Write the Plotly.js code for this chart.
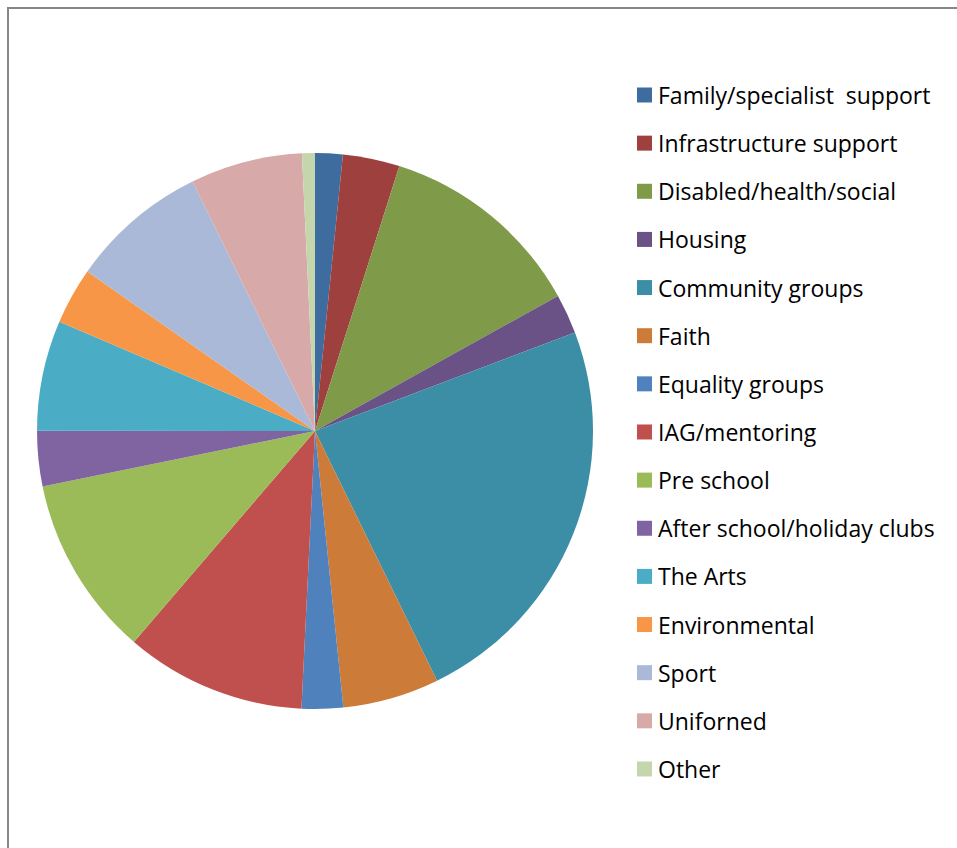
<!DOCTYPE html>
<html>
<head>
<meta charset="utf-8">
<script src="https://cdn.plot.ly/plotly-3.0.1.min.js"></script>
<style>
html,body{margin:0;padding:0;background:#fff;}
#chart{width:957px;height:848px;}
</style>
</head>
<body>
<div id="chart"></div>
<script>
var categories = [
  "Family/specialist  support",
  "Infrastructure support",
  "Disabled/health/social",
  "Housing",
  "Community groups",
  "Faith",
  "Equality groups",
  "IAG/mentoring",
  "Pre school",
  "After school/holiday clubs",
  "The Arts",
  "Environmental",
  "Sport",
  "Uniforned",
  "Other"
];
var shares = [1.6, 3.3, 12.0, 2.3, 23.5, 5.6, 2.4, 10.5, 10.5, 3.2, 6.4, 3.3, 8.0, 6.5, 0.75];
var colors = [
  "#3E6C9F", "#9E413E", "#7F9A48", "#6A5186", "#3B8EA5",
  "#CC7B38", "#4F81BD", "#C0504D", "#9BBB59", "#8064A2",
  "#4BACC6", "#F79646", "#A9B9D7", "#D8A9A9", "#C6D6AC"
];

var W = 957, H = 848;
var cx = 315, cy = 431, R = 278;

var trace = {
  type: "pie",
  labels: categories,
  values: shares,
  sort: false,
  direction: "clockwise",
  rotation: 0,
  textinfo: "none",
  marker: { colors: colors, line: { width: 0 } },
  domain: {
    x: [(cx - R) / W, (cx + R) / W],
    y: [(H - cy - R) / H, (H - cy + R) / H]
  },
  showlegend: false,
  hoverinfo: "label+percent"
};

// Legend built from the category list
var legTop = 95, legStep = 48.14, sq = 15, legX = 637, textX = 656;
var shapes = [{
  type: "rect", xref: "paper", yref: "paper",
  x0: 8 / W, x1: 1.1, y0: -0.1, y1: (H - 8) / H,
  line: { color: "#878787", width: 2 }, fillcolor: "rgba(0,0,0,0)"
}];
var annotations = [];
categories.forEach(function (c, i) {
  var yc = legTop + legStep * i;
  shapes.push({
    type: "rect", xref: "paper", yref: "paper",
    x0: legX / W, x1: (legX + sq) / W,
    y0: (H - yc - sq / 2) / H, y1: (H - yc + sq / 2) / H,
    line: { width: 0 }, fillcolor: colors[i]
  });
  annotations.push({
    xref: "paper", yref: "paper",
    x: textX / W, y: (H - yc) / H,
    xanchor: "left", yanchor: "middle",
    text: c, showarrow: false,
    font: { family: "'Open Sans', 'Noto Sans', sans-serif", size: 23, color: "#000" }
  });
});

var layout = {
  width: W, height: H,
  margin: { l: 0, r: 0, t: 0, b: 0 },
  paper_bgcolor: "#fff",
  showlegend: false,
  shapes: shapes,
  annotations: annotations
};

Plotly.newPlot("chart", [trace], layout, { displayModeBar: false });
</script>
</body>
</html>
